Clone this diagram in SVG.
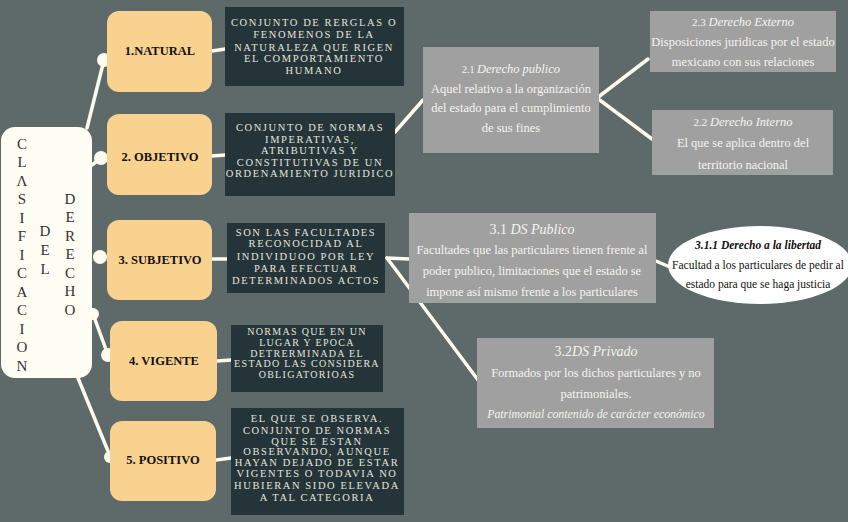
<svg xmlns="http://www.w3.org/2000/svg" width="848" height="522" viewBox="0 0 848 522">
<style>
.cat rect{fill:#fad290}
.cat text{font-family:"Liberation Serif",serif;font-weight:bold;font-size:12.5px;fill:#111;text-anchor:middle}
.def rect{fill:#243439}
.def text{font-family:"Liberation Serif",serif;font-size:10.5px;letter-spacing:1.6px;fill:#e4e4dc;text-anchor:middle}
.sub rect{fill:#a0a0a0}
.sub text{font-family:"Liberation Serif",serif;font-size:12.5px;fill:#f4f4f0;text-anchor:middle}
.title text{font-family:"Liberation Serif",serif;font-size:15px;fill:#333;text-anchor:middle}
.conn line{stroke:#fbfbee;stroke-width:3.5;stroke-linecap:round}
.conn circle{fill:#fbfbee}
</style>
<rect width="848" height="522" fill="#5e696a"/>

<g id="connectors" class="conn">
<line x1="87" y1="128" x2="104" y2="60"/>
<circle cx="104" cy="60" r="7"/>
<line x1="92" y1="165" x2="101" y2="158"/>
<circle cx="101" cy="158" r="7"/>
<circle cx="100" cy="257" r="7"/>
<line x1="93" y1="314" x2="108" y2="355"/>
<circle cx="93" cy="314" r="6"/>
<circle cx="108" cy="355" r="7"/>
<line x1="78" y1="378" x2="110" y2="456"/>
<circle cx="110" cy="457" r="6"/>
<line x1="212" y1="51" x2="225" y2="49"/>
<line x1="212" y1="156" x2="225" y2="155"/>
<line x1="212" y1="259" x2="227" y2="259"/>
<line x1="217" y1="361" x2="231" y2="360"/>
<line x1="216" y1="460" x2="231" y2="458"/>
<line x1="395" y1="132" x2="423" y2="100"/>
<line x1="597" y1="98" x2="648" y2="59"/>
<line x1="597" y1="98" x2="652" y2="139"/>
<line x1="387" y1="258" x2="409" y2="259"/>
<line x1="387" y1="258" x2="478" y2="380"/>
<line x1="656" y1="261" x2="672" y2="268"/>
</g>

<g id="title" class="title">
<rect x="1" y="127" width="91" height="251" rx="14" fill="#fdfdf3"/>
<text x="22" y="149">C</text>
<text x="22" y="167">L</text>
<text x="22" y="186">Λ</text>
<text x="22" y="204">S</text>
<text x="22" y="223">I</text>
<text x="22" y="241">F</text>
<text x="22" y="260">I</text>
<text x="22" y="278">C</text>
<text x="22" y="297">A</text>
<text x="22" y="315">C</text>
<text x="22" y="334">I</text>
<text x="22" y="352">O</text>
<text x="22" y="371">N</text>
<text x="45" y="236">D</text>
<text x="45" y="255">E</text>
<text x="45" y="274">L</text>
<text x="70" y="204">D</text>
<text x="70" y="222">E</text>
<text x="70" y="241">R</text>
<text x="70" y="259">E</text>
<text x="70" y="278">C</text>
<text x="70" y="296">H</text>
<text x="70" y="315">O</text>
</g>

<g id="natural" class="cat"><rect x="107" y="11" width="105" height="81" rx="12"/><text x="160" y="55">1.NATURAL</text></g>
<g id="objetivo" class="cat"><rect x="107" y="114" width="105" height="81" rx="12"/><text x="160" y="161">2. OBJETIVO</text></g>
<g id="subjetivo" class="cat"><rect x="107" y="220" width="105" height="80" rx="12"/><text x="160" y="264">3. SUBJETIVO</text></g>
<g id="vigente" class="cat"><rect x="110" y="321" width="107" height="80" rx="12"/><text x="164" y="365">4. VIGENTE</text></g>
<g id="positivo" class="cat"><rect x="110" y="421" width="106" height="80" rx="12"/><text x="163" y="464">5. POSITIVO</text></g>

<g id="def-natural" class="def"><rect x="225" y="7" width="179" height="79"/>
<text x="314" y="26">CONJUNTO DE RERGLAS O</text>
<text x="314" y="38">FENOMENOS DE LA</text>
<text x="314" y="51">NATURALEZA QUE RIGEN</text>
<text x="314" y="62">EL COMPORTAMIENTO</text>
<text x="314" y="74">HUMANO</text></g>

<g id="def-objetivo" class="def"><rect x="225" y="113" width="170" height="83"/>
<text x="310" y="131">CONJUNTO DE NORMAS</text>
<text x="310" y="143">IMPERATIVAS,</text>
<text x="310" y="154">ATRIBUTIVAS Y</text>
<text x="310" y="166">CONSTITUTIVAS DE UN</text>
<text x="310" y="177">ORDENAMIENTO JURIDICO</text></g>

<g id="def-subjetivo" class="def"><rect x="227" y="223" width="158" height="70"/>
<text x="306" y="236">SON LAS FACULTADES</text>
<text x="306" y="247">RECONOCIDAD AL</text>
<text x="306" y="260">INDIVIDUOO POR LEY</text>
<text x="306" y="272">PARA EFECTUAR</text>
<text x="306" y="284">DETERMINADOS ACTOS</text></g>

<g id="def-vigente" class="def"><rect x="231" y="325" width="152" height="67"/>
<text x="307" y="335" style="font-size:10px;letter-spacing:1.3px">NORMAS QUE EN UN</text>
<text x="307" y="346" style="font-size:10px;letter-spacing:1.3px">LUGAR Y EPOCA</text>
<text x="307" y="357" style="font-size:10px;letter-spacing:1.3px">DETRERMINADA EL</text>
<text x="307" y="367" style="font-size:10px;letter-spacing:1.3px">ESTADO LAS CONSIDERA</text>
<text x="307" y="378" style="font-size:10px;letter-spacing:1.3px">OBLIGATORIOAS</text></g>

<g id="def-positivo" class="def"><rect x="231" y="408" width="173" height="107"/>
<text x="317" y="422">EL QUE SE OBSERVA.</text>
<text x="317" y="434">CONJUNTO DE NORMAS</text>
<text x="317" y="445">QUE SE ESTAN</text>
<text x="317" y="455">OBSERVANDO, AUNQUE</text>
<text x="317" y="466">HAYAN DEJADO DE ESTAR</text>
<text x="317" y="477">VIGENTES O TODAVIA NO</text>
<text x="317" y="489">HUBIERAN SIDO ELEVADA</text>
<text x="317" y="501">A TAL CATEGORIA</text></g>

<g id="publico-21" class="sub"><rect x="423" y="47" width="176" height="106"/>
<text x="511" y="73"><tspan style="font-size:10px">2.1 </tspan><tspan font-style="italic">Derecho publico</tspan></text>
<text x="511" y="93">Aquel relativo a la organización</text>
<text x="511" y="112">del estado para el cumplimiento</text>
<text x="511" y="132">de sus fines</text></g>

<g id="externo-23" class="sub"><rect x="650" y="11" width="186" height="61"/>
<text x="743" y="26"><tspan style="font-size:11px">2.3 </tspan><tspan font-style="italic">Derecho Externo</tspan></text>
<text x="743" y="46">Disposiciones juridicas por el estado</text>
<text x="743" y="66">mexicano con sus relaciones</text></g>

<g id="interno-22" class="sub"><rect x="652" y="110" width="181" height="65"/>
<text x="743" y="126"><tspan style="font-size:11px">2.2 </tspan><tspan font-style="italic">Derecho Interno</tspan></text>
<text x="743" y="147">El que se aplica dentro del</text>
<text x="743" y="169">territorio nacional</text></g>

<g id="ds-publico-31" class="sub"><rect x="409" y="213" width="247" height="90"/>
<text x="532" y="234" style="font-size:14px">3.1 <tspan font-style="italic">DS Publico</tspan></text>
<text x="532" y="254">Facultades que las particulares tienen frente al</text>
<text x="532" y="275">poder publico, limitaciones que el estado se</text>
<text x="532" y="296">impone así mismo frente a los particulares</text></g>

<g id="libertad-311">
<ellipse cx="760" cy="265" rx="92" ry="39" fill="#ffffff"/>
<text x="758" y="249" style="font-family:'Liberation Serif',serif;font-size:11.5px;font-style:italic;font-weight:bold;fill:#111;text-anchor:middle">3.1.1 Derecho a la libertad</text>
<text x="758" y="269" style="font-family:'Liberation Serif',serif;font-size:11.5px;fill:#111;text-anchor:middle">Facultad a los particulares de pedir al</text>
<text x="758" y="288" style="font-family:'Liberation Serif',serif;font-size:11.5px;fill:#111;text-anchor:middle">estado para que se haga justicia</text></g>

<g id="ds-privado-32" class="sub"><rect x="477" y="338" width="237" height="90"/>
<text x="596" y="356" style="font-size:14px">3.2<tspan font-style="italic">DS Privado</tspan></text>
<text x="596" y="377">Formados por los dichos particulares y no</text>
<text x="596" y="398">patrimoniales.</text>
<text x="596" y="418" font-style="italic" style="font-size:11.8px">Patrimonial contenido de carácter económico</text></g>
</svg>
